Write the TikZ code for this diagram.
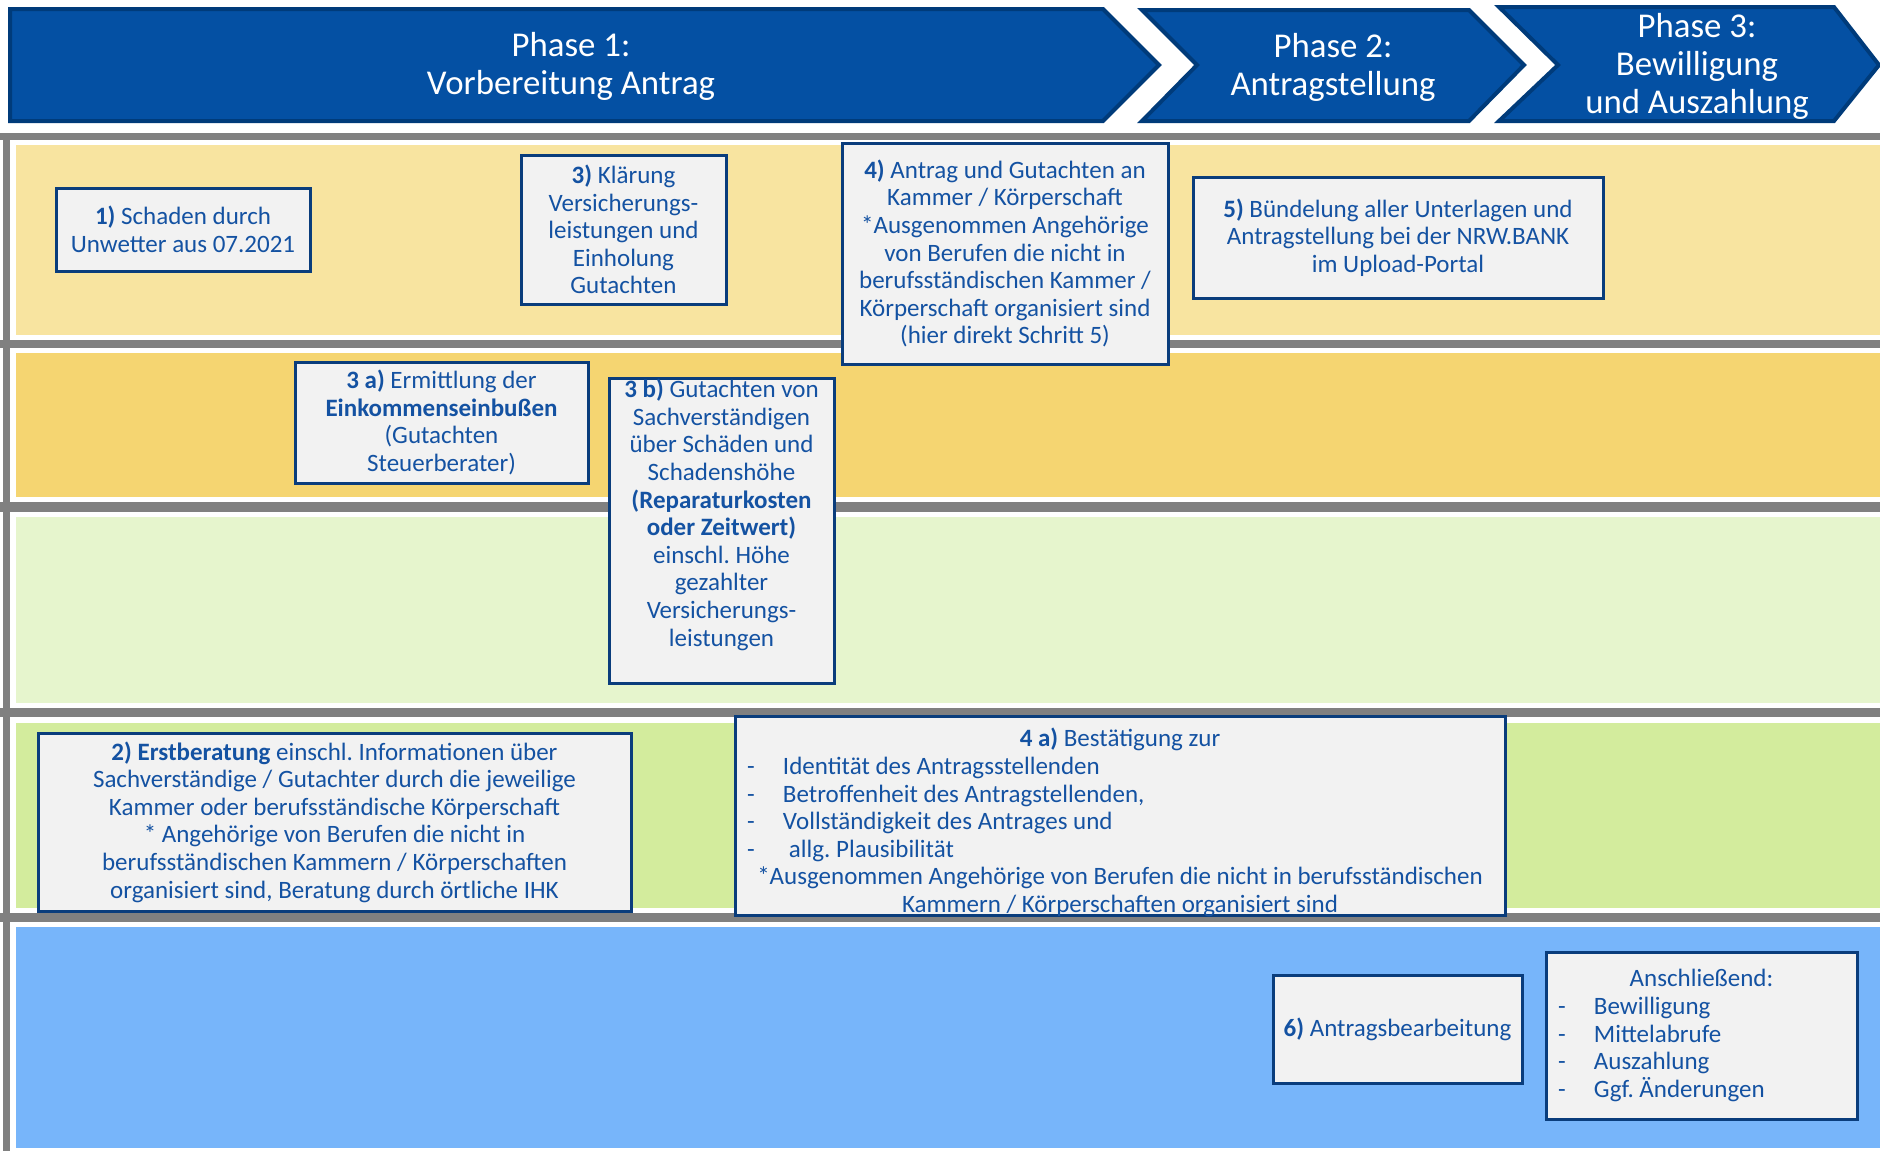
\documentclass[tikz,border=0pt]{standalone}
\usepackage{fontspec}
\setmainfont{Carlito}
\frenchspacing
\definecolor{hdrblue}{HTML}{0450A3}
\definecolor{hdrdark}{HTML}{003B7A}
\definecolor{boxline}{HTML}{0A3D7C}
\definecolor{boxfill}{HTML}{F2F2F2}
\definecolor{txtblue}{HTML}{1452A2}
\definecolor{bargrey}{HTML}{808080}
\definecolor{rowA}{HTML}{F8E4A0}
\definecolor{rowB}{HTML}{F5D571}
\definecolor{rowC}{HTML}{E6F5CD}
\definecolor{rowD}{HTML}{D3EC9D}
\definecolor{rowE}{HTML}{77B5FA}
\newcommand{\boxfont}{\fontsize{12.5}{13.8}\selectfont}
\newcommand{\hdrfont}{\fontsize{17.4}{19}\selectfont}
\newcommand{\plainsp}{\spaceskip=0pt\xspaceskip=0pt\frenchspacing}
\newcommand{\dashitem}[1]{\hspace*{6pt}\makebox[18pt][l]{-}#1\par}
\tikzset{
  hdr/.style={fill=hdrblue,draw=hdrdark,line width=2pt,line join=miter},
  hdrtext/.style={text=white,font=\hdrfont,align=center},
  box/.style={draw=boxline,line width=1.5pt,fill=boxfill,text=txtblue,font=\boxfont,align=center,inner sep=0pt},
  boxsize/.style 2 args={minimum width=#1*0.5pt,minimum height=#2*0.5pt},
  boxtext/.style={text=txtblue,font=\boxfont,align=left,inner sep=0pt}
}
\begin{document}
\begin{tikzpicture}[x=0.5pt,y=-0.5pt]
\useasboundingbox (0,0) rectangle (1880,1151);
\foreach \ya/\yb in {133/140,340/348,502/512,708/717,913/922}
  \fill[bargrey] (0,\ya) rectangle (1880,\yb);
\fill[bargrey] (3,133) rectangle (10,1151);
\foreach \ya/\yb/\c in {145/335/rowA,353/497/rowB,517/703/rowC,723/908/rowD,927/1148/rowE}
  \fill[\c] (16,\ya) rectangle (1880,\yb);

\filldraw[hdr] (10,9) -- (1103,9) -- (1159,65) -- (1103,121) -- (10,121) -- cycle;
\filldraw[hdr] (1142,10) -- (1469,10) -- (1524,65) -- (1469,121) -- (1142,121) -- (1197,65) -- cycle;
\filldraw[hdr] (1499,7) -- (1834,7) -- (1879,65) -- (1834,121) -- (1499,121) -- (1558,65) -- cycle;
\node[hdrtext] (hdr1) at (571,66) {Phase 1:\\Vorbereitung Antrag};
\node[hdrtext] (hdr2) at (1333,67) {Phase 2:\\Antragstellung};
\node[hdrtext] (hdr3) at (1697,66) {Phase 3:\\Bewilligung\\und Auszahlung};

\node[box,boxsize={254}{83}] (s1) at (183,229.5) {\textbf{1)} Schaden durch\\Unwetter aus 07.2021};
\node[box,boxsize={205}{149}] (s3) at (623.5,229.5) {\textbf{3)} Klärung\\Versicherungs-\\leistungen und\\Einholung\\Gutachten};
\node[box,boxsize={326}{221}] (s4) at (1005,253.5) {\textbf{4)} Antrag und Gutachten an\\Kammer / Körperschaft\\{}*Ausgenommen Angehörige\\von Berufen die nicht in\\berufsständischen Kammer /\\Körperschaft organisiert sind\\(hier direkt Schritt 5)};
\node[box,boxsize={410}{121}] (s5) at (1398,237.5) {\textbf{5)} Bündelung aller Unterlagen und\\Antragstellung bei der NRW.BANK\\im Upload-Portal};
\node[box,boxsize={293}{121}] (s3a) at (441.5,422.5) {\textbf{3 a)} Ermittlung der\\\textbf{Einkommenseinbußen}\\(Gutachten\\Steuerberater)};
\node[box,boxsize={225}{305}] (s3b) at (721.5,530.5) {\textbf{3 b)} Gutachten von\\Sachverständigen\\über Schäden und\\Schadenshöhe\\\textbf{(Reparaturkosten}\\\textbf{oder Zeitwert)}\\einschl. Höhe\\gezahlter\\Versicherungs-\\leistungen\\\strut};
\node[box,boxsize={593}{178}] (s2) at (334.5,822) {\textbf{2) Erstberatung} einschl. Informationen über\\Sachverständige / Gutachter durch die jeweilige\\Kammer oder berufsständische Körperschaft\\{}* Angehörige von Berufen die nicht in\\berufsständischen Kammern / Körperschaften\\organisiert sind, Beratung durch örtliche IHK};
\node[box,boxsize={770}{199}] (s4a) at (1120,815.5) {};
\node[boxtext,text width=385pt] (s4atext) at ([yshift=-3.5pt]s4a.center) {\plainsp
  {\centering\textbf{4 a)} Bestätigung zur\par}
  \dashitem{Identität des Antragsstellenden}
  \dashitem{Betroffenheit des Antragstellenden,}
  \dashitem{Vollständigkeit des Antrages und}
  \dashitem{\hspace{3pt}allg. Plausibilität}
  {\centering *Ausgenommen Angehörige von Berufen die nicht in berufsständischen\par
  Kammern / Körperschaften organisiert sind\par}};
\node[box,boxsize={249}{108}] (s6) at (1397.5,1029) {\textbf{6)} Antragsbearbeitung};
\node[box,boxsize={311}{167},text width=155.5pt,align=left] (s7) at (1701.5,1035.5) {\plainsp
  {\centering Anschließend:\par}
  \dashitem{Bewilligung}
  \dashitem{Mittelabrufe}
  \dashitem{Auszahlung}
  \dashitem{Ggf. Änderungen}};
\end{tikzpicture}
\end{document}
